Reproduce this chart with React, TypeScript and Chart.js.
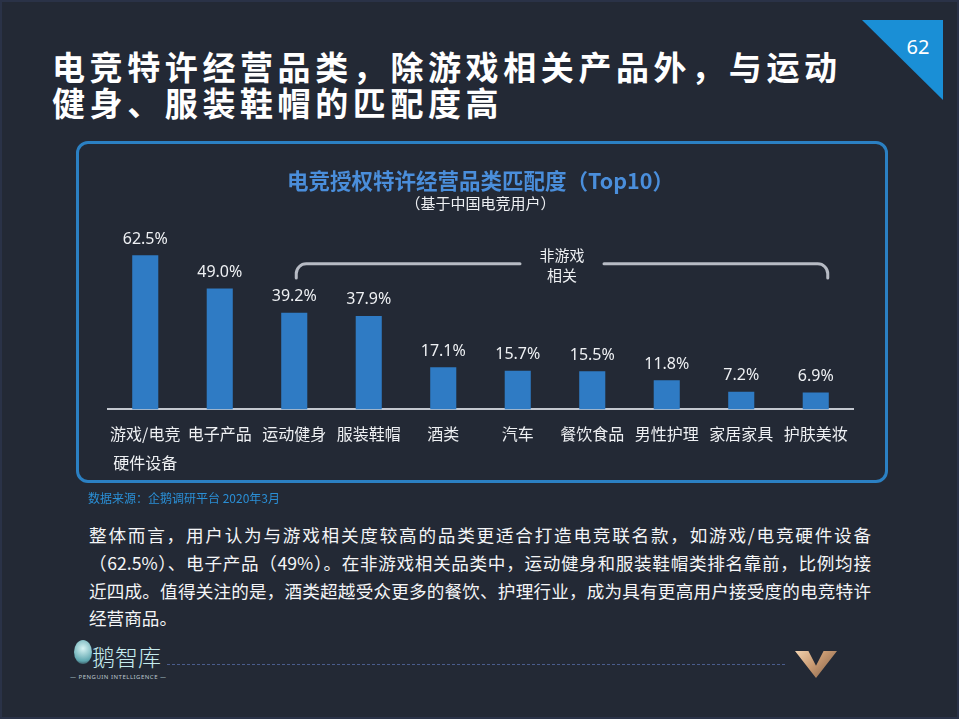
import React, { useEffect, useRef } from "react";
import { Chart, registerables } from "chart.js";

Chart.register(...registerables);

const categories: (string | string[])[] = [
  ["游戏/电竞", "硬件设备"],
  "电子产品",
  "运动健身",
  "服装鞋帽",
  "酒类",
  "汽车",
  "餐饮食品",
  "男性护理",
  "家居家具",
  "护肤美妆",
];
const values = [62.5, 49.0, 39.2, 37.9, 17.1, 15.7, 15.5, 11.8, 7.2, 6.9];
const valueLabels = values.map((v) => v.toFixed(1) + "%");
const bracketText = ["非游戏", "相关"];
const bracketFrom = 2;
const bracketTo = 9;
const chartTitle = "电竞授权特许经营品类匹配度（Top10）";
const chartSubtitle = "（基于中国电竞用户）";
const slideTitle = ["电竞特许经营品类，除游戏相关产品外，与运动", "健身、服装鞋帽的匹配度高"];
const pageNumber = "62";
const sourceNote = "数据来源：企鹅调研平台 2020年3月";
const paragraphLines = [
  "整体而言，用户认为与游戏相关度较高的品类更适合打造电竞联名款，如游戏/电竞硬件设备",
  "（62.5%）、电子产品（49%）。在非游戏相关品类中，运动健身和服装鞋帽类排名靠前，比例均接",
  "近四成。值得关注的是，酒类超越受众更多的餐饮、护理行业，成为具有更高用户接受度的电竞特许",
  "经营商品。",
];

const CJK = '"Noto Sans CJK SC", "Noto Sans", sans-serif';

const valueLabelPlugin = {
  id: "valueLabels",
  afterDatasetsDraw(chart: any) {
    const ctx = chart.ctx;
    const meta = chart.getDatasetMeta(0);
    ctx.save();
    ctx.font = '16px "Noto Sans", "Open Sans", sans-serif';
    ctx.fillStyle = "#eef0f3";
    ctx.textAlign = "center";
    ctx.textBaseline = "middle";
    meta.data.forEach((bar: any, i: number) => {
      ctx.fillText(valueLabels[i], bar.x, bar.y - 16);
    });
    ctx.restore();
  },
};

const bracketPlugin = {
  id: "bracket",
  afterDraw(chart: any) {
    const ctx = chart.ctx;
    const xs = chart.scales.x;
    const ys = chart.scales.y;
    const x1 = xs.getPixelForValue(bracketFrom) + 2;
    const x2 = xs.getPixelForValue(bracketTo) + 12;
    const y = ys.getPixelForValue(59);
    const yEnd = ys.getPixelForValue(53.3);
    const r = 10;
    const mid = (x1 + x2) / 2;
    const gap = 42;
    ctx.save();
    ctx.strokeStyle = "#b7bbc4";
    ctx.lineWidth = 3;
    ctx.lineCap = "round";
    ctx.beginPath();
    ctx.moveTo(x1, yEnd);
    ctx.lineTo(x1, y + r);
    ctx.arcTo(x1, y, x1 + r, y, r);
    ctx.lineTo(mid - gap, y);
    ctx.moveTo(mid + gap, y);
    ctx.lineTo(x2 - r, y);
    ctx.arcTo(x2, y, x2, y + r, r);
    ctx.lineTo(x2, yEnd);
    ctx.stroke();
    ctx.font = "15px " + CJK;
    ctx.fillStyle = "#eef0f3";
    ctx.textAlign = "center";
    ctx.textBaseline = "middle";
    ctx.fillText(bracketText[0], mid, y - 9);
    ctx.fillText(bracketText[1], mid, y + 11);
    ctx.restore();
  },
};

function BarChart() {
  const ref = useRef<HTMLCanvasElement | null>(null);
  useEffect(() => {
    if (!ref.current) return;
    const chart = new Chart(ref.current, {
      type: "bar",
      data: {
        labels: categories,
        datasets: [
          {
            data: values,
            backgroundColor: "#2f7bc4",
            borderWidth: 0,
            barPercentage: 0.35,
            categoryPercentage: 1,
          },
        ],
      },
      options: {
        responsive: false,
        animation: false,
        layout: { padding: { left: 30, right: 33, top: 0, bottom: 5 } },
        plugins: {
          legend: { display: false },
          tooltip: { enabled: false },
          title: {
            display: true,
            text: chartTitle,
            color: "#4a8edb",
            font: { family: CJK, size: 21.5, weight: "bold", lineHeight: 1.2 },
            padding: { top: 24, bottom: 0 },
          },
          subtitle: {
            display: true,
            text: chartSubtitle,
            color: "#eef0f3",
            font: { family: CJK, size: 15, lineHeight: 1.2 },
            padding: { top: 0, bottom: 12.6 },
          },
        },
        scales: {
          x: {
            grid: { display: false, drawTicks: false },
            border: { display: true, color: "#c3c7cf", width: 2 },
            ticks: {
              color: "#eef0f3",
              font: { family: CJK, size: 16, lineHeight: 1.8 },
              padding: 10,
              maxRotation: 0,
              minRotation: 0,
              autoSkip: false,
            },
          },
          y: {
            display: false,
            min: 0,
            max: 75,
          },
        },
      },
      plugins: [valueLabelPlugin, bracketPlugin],
    });
    return () => chart.destroy();
  }, []);
  return (
    <canvas
      ref={ref}
      width={808}
      height={348}
      style={{ position: "absolute", left: 78, top: 144, width: 808, height: 348 }}
    />
  );
}

export default function App() {
  return (
    <div
      style={{
        position: "absolute",
        left: 0,
        top: 0,
        width: 959,
        height: 719,
        overflow: "hidden",
        background: "#232935",
        fontFamily: CJK,
      }}
    >
      {/* frame */}
      <div
        style={{
          position: "absolute",
          left: 0,
          top: 0,
          width: 955,
          height: 715,
          border: "2px solid #2a3247",
        }}
      />
      {/* page number triangle */}
      <div
        style={{
          position: "absolute",
          left: 862,
          top: 20,
          width: 81,
          height: 80,
          background: "#1a8fd6",
          clipPath: "polygon(0 0, 100% 0, 100% 100%)",
        }}
      />
      <div
        style={{
          position: "absolute",
          left: 898,
          top: 33,
          width: 40,
          textAlign: "center",
          color: "#ffffff",
          fontSize: 20,
          fontFamily: '"Noto Sans", sans-serif',
          lineHeight: "28px",
        }}
      >
        {pageNumber}
      </div>
      {/* slide title */}
      {slideTitle.map((t, i) => (
        <div
          key={i}
          style={{
            position: "absolute",
            left: 52,
            top: 46 + i * 36,
            color: "#ffffff",
            fontSize: 33,
            fontWeight: 700,
            letterSpacing: 4.6,
            lineHeight: "40px",
            whiteSpace: "nowrap",
          }}
        >
          {t}
        </div>
      ))}
      {/* chart frame */}
      <div
        style={{
          position: "absolute",
          left: 76,
          top: 141,
          width: 806,
          height: 336,
          border: "3px solid #2b80c3",
          borderRadius: 12,
        }}
      />
      <BarChart />
      {/* source */}
      <div
        style={{
          position: "absolute",
          left: 88,
          top: 489,
          color: "#2a8fd6",
          fontSize: 12,
          lineHeight: "18px",
          whiteSpace: "nowrap",
        }}
      >
        {sourceNote}
      </div>
      {/* paragraph */}
      {paragraphLines.map((t, i) => {
        const last = i === paragraphLines.length - 1;
        return (
          <div
            key={i}
            style={{
              position: "absolute",
              left: 89,
              top: 521 + i * 27.8,
              width: 782,
              color: "#f4f5f7",
              fontSize: 17.6,
              lineHeight: "28px",
              whiteSpace: "nowrap",
              textAlign: last ? "left" : "justify",
              textAlignLast: last ? "left" : "justify",
              textJustify: "inter-character",
            } as any}
          >
            {t}
          </div>
        );
      })}
      {/* footer logo */}
      <div
        style={{
          position: "absolute",
          left: 74,
          top: 640,
          width: 18,
          height: 24,
          borderRadius: "50%",
          background: "radial-gradient(circle at 50% 35%, #d8f4f4, #5fa7b0 70%, rgba(35,41,53,0) 100%)",
        }}
      />
      <div
        style={{
          position: "absolute",
          left: 92,
          top: 641,
          color: "#c6ecef",
          fontSize: 23,
          lineHeight: "30px",
          fontWeight: 300,
          whiteSpace: "nowrap",
        }}
      >
        鹅智库
      </div>
      <div
        style={{
          position: "absolute",
          left: 70,
          top: 673,
          color: "#b9c4cc",
          fontSize: 6,
          lineHeight: "8px",
          letterSpacing: 0.5,
          fontFamily: '"Noto Sans", sans-serif',
          whiteSpace: "nowrap",
        }}
      >
        — PENGUIN INTELLIGENCE —
      </div>
      <div
        style={{
          position: "absolute",
          left: 167,
          top: 664,
          width: 618,
          height: 0,
          borderTop: "1px dashed #4a5c8c",
        }}
      />
      {/* V logo */}
      <div
        style={{
          position: "absolute",
          left: 795,
          top: 651,
          width: 42,
          height: 27,
          background: "linear-gradient(135deg, #f3d3b0 0%, #c99a72 45%, #7a5a44 100%)",
          clipPath: "polygon(0 0, 32% 0, 50% 55%, 68% 0, 100% 0, 50% 100%)",
        }}
      />
    </div>
  );
}
